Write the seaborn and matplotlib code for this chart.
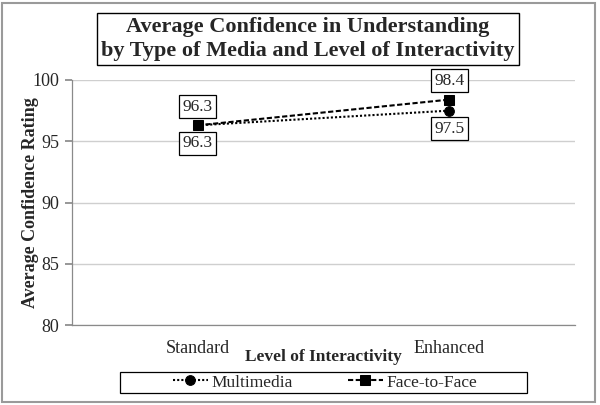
import matplotlib
matplotlib.use('Agg')
import matplotlib.pyplot as plt
import matplotlib.patches as mpatches
import pandas as pd
import seaborn as sns

levels = ['Standard', 'Enhanced']
multimedia = [96.3, 97.5]
face_to_face = [96.3, 98.4]
y_ticks = [80, 85, 90, 95, 100]

sns.set_theme(style='white')
plt.rcParams['font.family'] = ['Liberation Serif', 'DejaVu Serif']

df = pd.DataFrame({
    'level': levels * 2,
    'rating': multimedia + face_to_face,
    'media': ['Multimedia'] * 2 + ['Face-to-Face'] * 2,
})

fig = plt.figure(figsize=(6, 4.05), dpi=100)
ax = fig.add_axes([72 / 600, 1 - 325 / 405, 503 / 600, 245 / 405])

sns.lineplot(df, x='level', y='rating', style='media', color='black',
             markers={'Multimedia': 'o', 'Face-to-Face': 's'},
             dashes={'Multimedia': (1, 1), 'Face-to-Face': (2.5, 1.2)},
             markersize=7, markeredgecolor='black', linewidth=1.5, ax=ax)

ax.set_xlim(-0.5, 1.5)
ax.set_ylim(80, 100)
ax.set_yticks(y_ticks)
ax.grid(True, axis='y', color='#cfcfcf', linewidth=1)
for side in ['top', 'right']:
    ax.spines[side].set_visible(False)
for side in ['left', 'bottom']:
    ax.spines[side].set_color('#8a8a8a')
    ax.spines[side].set_linewidth(0.9)
ax.tick_params(axis='y', left=True, length=5, color='#8a8a8a', labelsize=13, pad=4)
ax.tick_params(axis='x', bottom=False, labelsize=13, pad=5)
ax.set_xlabel('Level of Interactivity', fontsize=12.5, fontweight='bold', labelpad=-6)
ax.set_ylabel('Average Confidence Rating', fontsize=13, fontweight='bold')
ax.yaxis.set_label_coords(-0.066, 0.5)

box = dict(boxstyle='square,pad=0.2', fc='white', ec='black', lw=0.9)
for i, v in enumerate(multimedia):
    ax.annotate(f'{v:.1f}', (i, v), xytext=(0, -13), textcoords='offset points',
                ha='center', va='center', fontsize=12.5, bbox=box)
for i, v in enumerate(face_to_face):
    ax.annotate(f'{v:.1f}', (i, v), xytext=(0, 13.5), textcoords='offset points',
                ha='center', va='center', fontsize=12.5, bbox=box)

handles, labels = ax.get_legend_handles_labels()
ax.get_legend().remove()
leg = fig.legend(handles, labels, loc='center', bbox_to_anchor=(325 / 600, 1 - 382.5 / 405),
                 ncol=2, fontsize=12.5, frameon=False,
                 handlelength=2.0, columnspacing=3.2, handletextpad=0.2)
fig.patches.append(mpatches.Rectangle((120 / 600, 1 - 393 / 405), 407 / 600, 21 / 405,
                                      transform=fig.transFigure, fill=False,
                                      ec='black', lw=0.9))

fig.text(308 / 600, 1 - 39 / 405,
         'Average Confidence in Understanding\nby Type of Media and Level of Interactivity',
         ha='center', va='center', fontsize=16, fontweight='bold', linespacing=1.25,
         bbox=dict(boxstyle='square,pad=0.2', fc='white', ec='black', lw=1))

fig.patches.append(mpatches.Rectangle((2 / 600, 3 / 405), 593 / 600, 399 / 405,
                                      transform=fig.transFigure, fill=False,
                                      ec='#9a9a9a', lw=1.5))

fig.savefig('out.png', dpi=100)
plt.close(fig)
